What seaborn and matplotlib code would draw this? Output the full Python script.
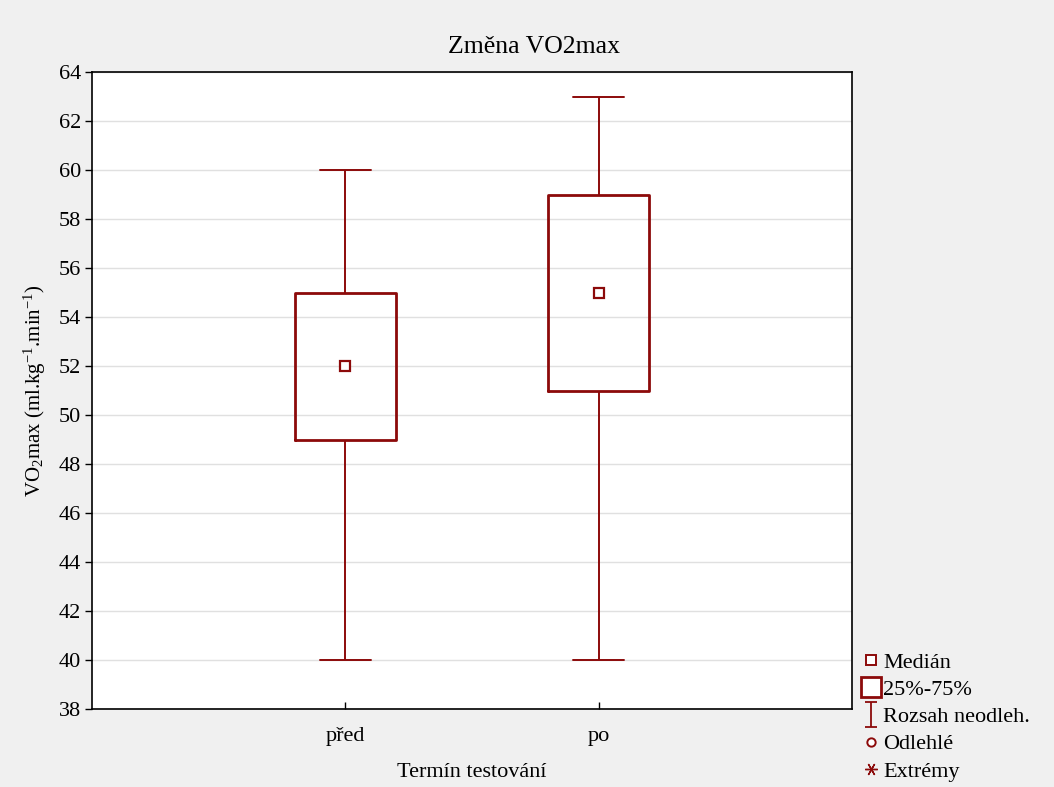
import matplotlib
matplotlib.use("Agg")
import matplotlib.pyplot as plt
import numpy as np
import pandas as pd
import seaborn as sns
from matplotlib.lines import Line2D
from matplotlib.path import Path

# Summary values (min, 25 %, median, 75 %, max)
terms = ["před", "po"]
minimum = [40, 40]
q1 = [49, 51]
median = [52, 55]
q3 = [55, 59]
maximum = [60, 63]

y_ticks = list(range(38, 65, 2))
dark_red = "#8c0a0a"

# five values per group reproduce exactly those quartiles
rows = []
for i, term in enumerate(terms):
    for v in (minimum[i], q1[i], median[i], q3[i], maximum[i]):
        rows.append({"term": term, "vo2": v})
df = pd.DataFrame(rows)

sns.set_theme(style="white")
plt.rcParams["font.family"] = ["Liberation Serif", "DejaVu Serif"]
plt.rcParams["text.color"] = "black"
plt.rcParams["axes.labelcolor"] = "black"
plt.rcParams["mathtext.fontset"] = "custom"
plt.rcParams["mathtext.rm"] = "Liberation Serif"
plt.rcParams["mathtext.it"] = "Liberation Serif:italic"

fig = plt.figure(figsize=(10.54, 7.87), dpi=100, facecolor="#f0f0f0")
ax = fig.add_axes([0.0873, 0.0991, 0.7211, 0.8094])
ax.set_facecolor("white")

sns.boxplot(data=df, x="term", y="vo2", order=terms, whis=(0, 100),
            width=0.4, fill=False, color=dark_red, ax=ax,
            boxprops=dict(linewidth=2.0, color=dark_red),
            whiskerprops=dict(linewidth=1.4, color=dark_red),
            capprops=dict(linewidth=1.4, color=dark_red),
            medianprops=dict(visible=False))

# median shown as a small open square
sns.pointplot(data=df, x="term", y="vo2", order=terms, estimator="median",
              errorbar=None, markers="s", linestyles="none", color=dark_red,
              ax=ax, markerfacecolor="white", markeredgecolor=dark_red,
              markersize=7, markeredgewidth=1.6)

ax.set_ylim(38, 64)
ax.set_yticks(y_ticks)
ax.set_xlim(-1.0, 2.0)
ax.yaxis.grid(True, color="#e0e0e0", linewidth=1)
ax.set_axisbelow(True)
for s in ax.spines.values():
    s.set_visible(True)
    s.set_color("black")
    s.set_linewidth(1.2)

ax.tick_params(axis="y", direction="out", length=5, width=1, labelsize=16,
               left=True, colors="black", pad=3)
ax.tick_params(axis="x", direction="in", length=5, width=1, labelsize=16,
               bottom=True, colors="black", pad=13)

ax.set_title("Změna VO2max", fontsize=18.5, pad=14, x=0.582)
ax.set_xlabel("Termín testování", fontsize=16, labelpad=12)
ax.set_ylabel(r"VO$_2$max (ml.kg$^{-1}$.min$^{-1}$)", fontsize=15, labelpad=8)

# legend in Statistica style
whisker_marker = Path([(-0.5, 1), (0.5, 1), (0, 1), (0, -1), (-0.5, -1), (0.5, -1)],
                      [Path.MOVETO, Path.LINETO, Path.MOVETO, Path.LINETO,
                       Path.MOVETO, Path.LINETO])
handles = [
    Line2D([], [], linestyle="none", marker="s", markersize=7,
           markerfacecolor="white", markeredgecolor=dark_red, markeredgewidth=1.4),
    Line2D([], [], linestyle="none", marker="s", markersize=14,
           markerfacecolor="white", markeredgecolor=dark_red, markeredgewidth=2),
    Line2D([], [], linestyle="none", marker=whisker_marker, markersize=18,
           markeredgecolor=dark_red, markeredgewidth=1.3),
    Line2D([], [], linestyle="none", marker="o", markersize=6,
           markerfacecolor="white", markeredgecolor=dark_red, markeredgewidth=1.4),
    Line2D([], [], linestyle="none", marker=(6, 2, 90), markersize=9,
           markeredgecolor=dark_red, markeredgewidth=1),
]
labels = ["Medián", "25%-75%", "Rozsah neodleh.", "Odlehlé", "Extrémy"]
fig.legend(handles, labels, loc="lower left", bbox_to_anchor=(0.802, -0.013),
           frameon=False, fontsize=16, handlelength=0.9, handletextpad=0.1,
           labelspacing=0.3, borderaxespad=0.3)

fig.savefig("out.png", dpi=100, facecolor=fig.get_facecolor())
